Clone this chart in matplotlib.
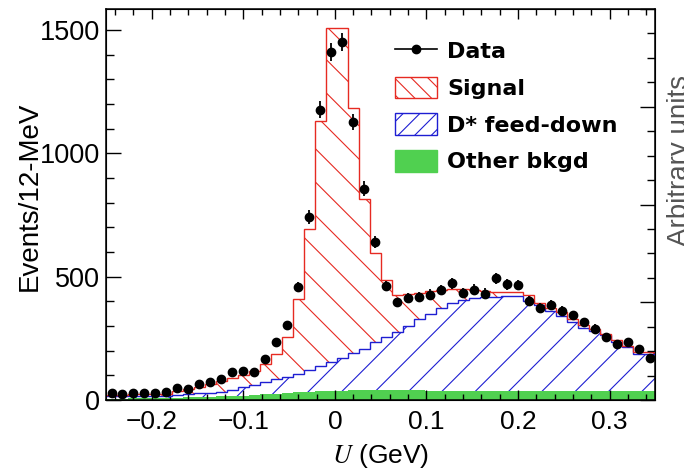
import numpy as np
import matplotlib.pyplot as plt
from matplotlib.patches import Patch
from matplotlib.lines import Line2D
from matplotlib.ticker import MultipleLocator, FuncFormatter

plt.rcParams['font.family'] = ['Liberation Sans', 'DejaVu Sans']
plt.rcParams['mathtext.fontset'] = 'stix'
plt.rcParams['hatch.linewidth'] = 0.8

# binning: 12 MeV bins over the U range
u_lo, u_hi, n_bins = -0.25, 0.35, 50

data = [27, 26, 31, 28, 30, 33, 50, 46, 67, 74,
        84, 115, 118, 116, 166, 235, 305, 458, 742, 1177,
        1411, 1451, 1127, 857, 641, 462, 396, 412, 419, 428,
        446, 474, 435, 448, 432, 493, 469, 466, 402, 374,
        385, 363, 344, 317, 290, 254, 229, 234, 209, 169]

other = [6, 6, 7, 7, 8, 8, 10, 11, 12, 13,
         15, 17, 18, 20, 23, 26, 29, 32, 35, 37,
         38, 39, 40, 40, 40, 40, 40, 40, 40, 39,
         39, 39, 39, 38, 38, 38, 38, 38, 38, 38,
         38, 38, 38, 38, 38, 38, 38, 38, 38, 38]

dstar = [9, 9, 9, 9, 9, 10, 12, 14, 16, 18,
         20, 25, 34, 42, 50, 58, 65, 76, 89, 103,
         117, 130, 150, 169, 194, 216, 237, 262, 288, 311,
         335, 354, 366, 374, 380, 382, 383, 383, 362, 347,
         322, 304, 280, 254, 244, 224, 196, 176, 149, 148]

signal = [7, 7, 7, 7, 7, 8, 16, 19, 27, 34,
          41, 46, 48, 56, 75, 102, 162, 302, 571, 992,
          1351, 1337, 994, 606, 364, 232, 148, 128, 108, 92,
          74, 57, 44, 35, 26, 20, 18, 18, 28, 10,
          12, 14, 10, 12, 8, 6, 8, 4, 8, 9]

labels = ['Data', 'Signal', 'D* feed-down', 'Other bkgd']

edges = np.linspace(u_lo, u_hi, n_bins + 1)
centers = 0.5 * (edges[:-1] + edges[1:])
data = np.array(data)
lvl1 = np.array(other)
lvl2 = lvl1 + np.array(dstar)
lvl3 = lvl2 + np.array(signal)

red = '#e62a22'
blue = '#1e1ed2'
green = '#50d050'

fig = plt.figure(figsize=(6.84, 4.73), dpi=100)
ax = fig.add_axes([0.155, 0.154, 0.803, 0.827])

ax.stairs(lvl1, edges, baseline=0, fill=True, color=green, lw=0, zorder=1)
ax.stairs(lvl2, edges, baseline=lvl1, fill=True, facecolor='none',
          edgecolor=blue, hatch='/', lw=0, zorder=2)
ax.stairs(lvl3, edges, baseline=lvl2, fill=True, facecolor='none',
          edgecolor=red, hatch='\\', lw=0, zorder=2)
ax.stairs(lvl2, edges, baseline=None, color=blue, lw=1.0, zorder=3)
ax.stairs(lvl3, edges, baseline=None, color=red, lw=1.0, zorder=3)
ax.errorbar(centers, data, yerr=np.sqrt(data), fmt='o', color='black',
            ms=6, elinewidth=1.3, capsize=0, zorder=5)

ax.set_xlim(u_lo, u_hi)
ax.set_ylim(0, 1585)
ax.xaxis.set_major_locator(MultipleLocator(0.1))
ax.xaxis.set_minor_locator(MultipleLocator(0.02))
ax.yaxis.set_major_locator(MultipleLocator(500))
ax.yaxis.set_minor_locator(MultipleLocator(100))


def fmt_x(v, pos):
    if abs(v) < 1e-9:
        return '0'
    return f'{round(v, 2):g}'.replace('-', '\u2212')


ax.xaxis.set_major_formatter(FuncFormatter(fmt_x))
ax.tick_params(axis='x', which='both', direction='in', top=True,
               labelsize=19, pad=7)
ax.tick_params(axis='x', which='major', length=7, width=1.0)
ax.tick_params(axis='x', which='minor', length=4.3, width=1.0)
ax.tick_params(axis='y', which='both', direction='in', right=False,
               labelsize=19.5, pad=4)
ax.tick_params(axis='y', which='major', length=11, width=1.0)
ax.tick_params(axis='y', which='minor', length=5.5, width=1.0)
for s in ax.spines.values():
    s.set_linewidth(1.1)

# right axis in arbitrary units, ticks only
ax2 = ax.twinx()
ax2.set_ylim(0, 4)
ax2.yaxis.set_major_locator(MultipleLocator(1))
ax2.yaxis.set_minor_locator(MultipleLocator(0.25))
ax2.tick_params(axis='y', which='both', direction='in', labelright=False)
ax2.tick_params(axis='y', which='major', length=11, width=1.0)
ax2.tick_params(axis='y', which='minor', length=5.5, width=1.0)

ax.set_ylabel('Events/12-MeV', fontsize=20)
ax.yaxis.set_label_coords(-0.115, 0.52)
ax.set_xlabel('$U$ (GeV)', fontsize=19)
ax.xaxis.set_label_coords(0.5, -0.107)
fig.text(0.975, 0.66, 'Arbitrary units', rotation=90, ha='left',
         va='center', fontsize=20, color='#555555')

handles = [Line2D([], [], color='black', marker='o', ms=6, lw=1.2),
           Patch(facecolor='white', edgecolor=red, hatch='\\\\', lw=1),
           Patch(facecolor='white', edgecolor=blue, hatch='//', lw=1),
           Patch(facecolor=green, edgecolor=green)]
ax2.legend(handles, labels, loc='upper left',
           bbox_to_anchor=(395 / 684, 1 - 40 / 473),
           bbox_transform=fig.transFigure, frameon=False, borderpad=0,
           borderaxespad=0, handlelength=1.9, handleheight=1.13,
           handletextpad=0.45, labelspacing=0.64,
           prop={'family': 'DejaVu Sans', 'weight': 'bold', 'size': 16})

fig.savefig('out.png', dpi=100)
